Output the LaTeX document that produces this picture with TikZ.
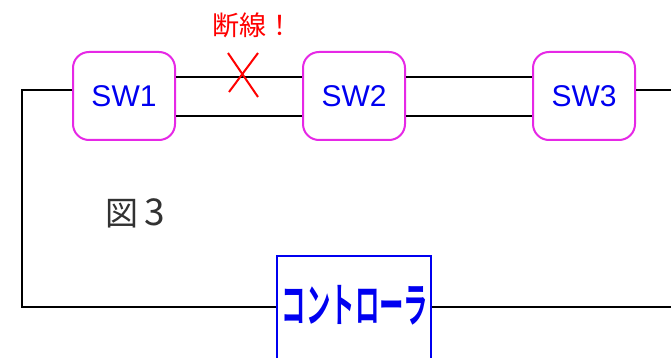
\documentclass[tikz,border=0pt]{standalone}
\usepackage{fontspec}
\setmainfont{Liberation Sans}
\newfontfamily\jpfont[BoldFont={Noto Sans CJK JP Bold}]{Noto Sans CJK JP}
\definecolor{swpink}{RGB}{230,40,230}
\definecolor{swblue}{RGB}{0,0,240}
\definecolor{figgray}{RGB}{50,50,50}
\begin{document}
\begin{tikzpicture}[x=1pt,y=-1pt,
  swbox/.style={draw=swpink, line width=2pt, rounded corners=16pt, minimum width=102pt, minimum height=88pt, inner sep=0pt, text=swblue, font=\fontsize{30}{30}\selectfont},
  ctrlbox/.style={draw=swblue, line width=1.5pt, fill=white, minimum width=154pt, minimum height=106pt, inner sep=0pt},
  wire/.style={black, line width=2pt}]
\clip (0,0) rectangle (671,358);
\useasboundingbox (0,0) rectangle (671,358);
\fill[white] (0,0) rectangle (671,358);

\node[swbox] (sw1) at (124,96) {SW1};
\node[swbox] (sw2) at (354,96) {SW2};
\node[swbox] (sw3) at (584,96) {SW3};
\node[ctrlbox] (ctrl) at (354,309) {};
\node[text=swblue, inner sep=0pt] (ctrltext) at (355,305) {\scalebox{0.52}[1]{\jpfont\bfseries\fontsize{47}{47}\selectfont コントローラ}};

\coordinate (lc) at (22,90);
\coordinate (lb) at (22,307);
\coordinate (rt) at (680,90);
\coordinate (rb) at (680,307);

\draw[wire] ([yshift=19pt]sw1.east) -- ([yshift=19pt]sw2.west);
\draw[wire] ([yshift=-20pt]sw1.east) -- ([yshift=-20pt]sw2.west);
\draw[wire] ([yshift=19pt]sw2.east) -- ([yshift=19pt]sw3.west);
\draw[wire] ([yshift=-20pt]sw2.east) -- ([yshift=-20pt]sw3.west);
\draw[wire] ([yshift=6pt]sw1.west) -- (lc) -- (lb) -- (ctrl.west |- lb);
\draw[wire] (ctrl.east |- rb) -- (rb);
\draw[wire] ([yshift=6pt]sw3.east) -- (rt);

\draw[red, line width=2pt] (228,53) -- (258,97);
\draw[red, line width=2pt] (258,53) -- (229,92);

\node[text=red, inner sep=0pt] (break) at (253,25) {\jpfont\fontsize{27}{27}\selectfont 断線！};
\node[text=figgray, inner sep=0pt, anchor=base west] (fig) at (105,225) {\jpfont\fontsize{33}{33}\selectfont 図\hspace{6pt}{\fontsize{37}{37}\selectfont 3}};
\end{tikzpicture}
\end{document}
